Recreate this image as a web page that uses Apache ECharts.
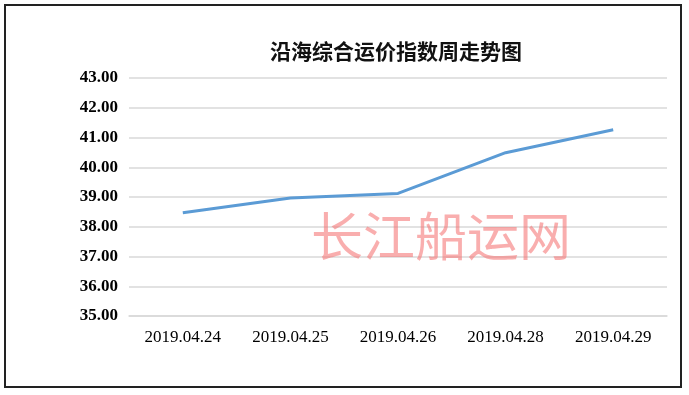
<!DOCTYPE html>
<html>
<head>
<meta charset="utf-8">
<script src="https://cdn.jsdelivr.net/npm/echarts@6/dist/echarts.min.js"></script>
<style>
html,body{margin:0;padding:0;background:#fff;}
#c{width:689px;height:395px;}
</style>
</head>
<body>
<div id="c"></div>
<script>
const titleText = '沿海综合运价指数周走势图';
const categories = ['2019.04.24', '2019.04.25', '2019.04.26', '2019.04.28', '2019.04.29'];
const indexValues = [38.47, 38.97, 39.12, 40.49, 41.26];
const yMin = 35, yMax = 43, yStep = 1;
const watermark = '长江船运网';

const chart = echarts.init(document.getElementById('c'), null, {renderer: 'canvas'});
chart.setOption({
  backgroundColor: '#ffffff',
  animation: false,
  title: {
    text: titleText,
    left: 391, top: 36, textAlign: 'center',
    textStyle: {fontFamily: '"Noto Sans CJK SC"', fontSize: 21, fontWeight: 'bold', color: '#111'}
  },
  grid: {left: 129, right: 22, top: 78, bottom: 79},
  xAxis: {
    type: 'category',
    data: categories,
    boundaryGap: true,
    axisLine: {show: true, lineStyle: {color: '#d9d9d9', width: 1.5}},
    axisTick: {show: false},
    axisLabel: {margin: 13, color: '#000', fontFamily: '"Liberation Serif"', fontSize: 17}
  },
  yAxis: {
    type: 'value',
    min: yMin, max: yMax, interval: yStep,
    axisLine: {show: false},
    axisTick: {show: false},
    splitLine: {lineStyle: {color: '#d9d9d9', width: 1.5}},
    axisLabel: {margin: 11, color: '#000', fontFamily: '"Liberation Serif"', fontWeight: 'bold', fontSize: 17,
      formatter: v => v.toFixed(2)}
  },
  series: [{
    type: 'line',
    data: indexValues,
    showSymbol: false,
    symbol: 'none',
    lineStyle: {color: '#5b9bd5', width: 3},
    z: 3
  }],
  graphic: [
    {type: 'rect', shape: {x: 5, y: 5, width: 676, height: 382},
     style: {fill: 'none', stroke: '#222', lineWidth: 2}, z: 100},
    {type: 'text', x: 441, y: 236, z: 50,
     style: {text: watermark, fill: 'rgba(245,120,120,0.6)', font: '52px "Noto Sans CJK SC"',
       align: 'center', verticalAlign: 'middle',
       shadowColor: 'rgba(0,0,0,0.35)', shadowBlur: 5, shadowOffsetX: 2, shadowOffsetY: 2}}
  ]
});
</script>
</body>
</html>
